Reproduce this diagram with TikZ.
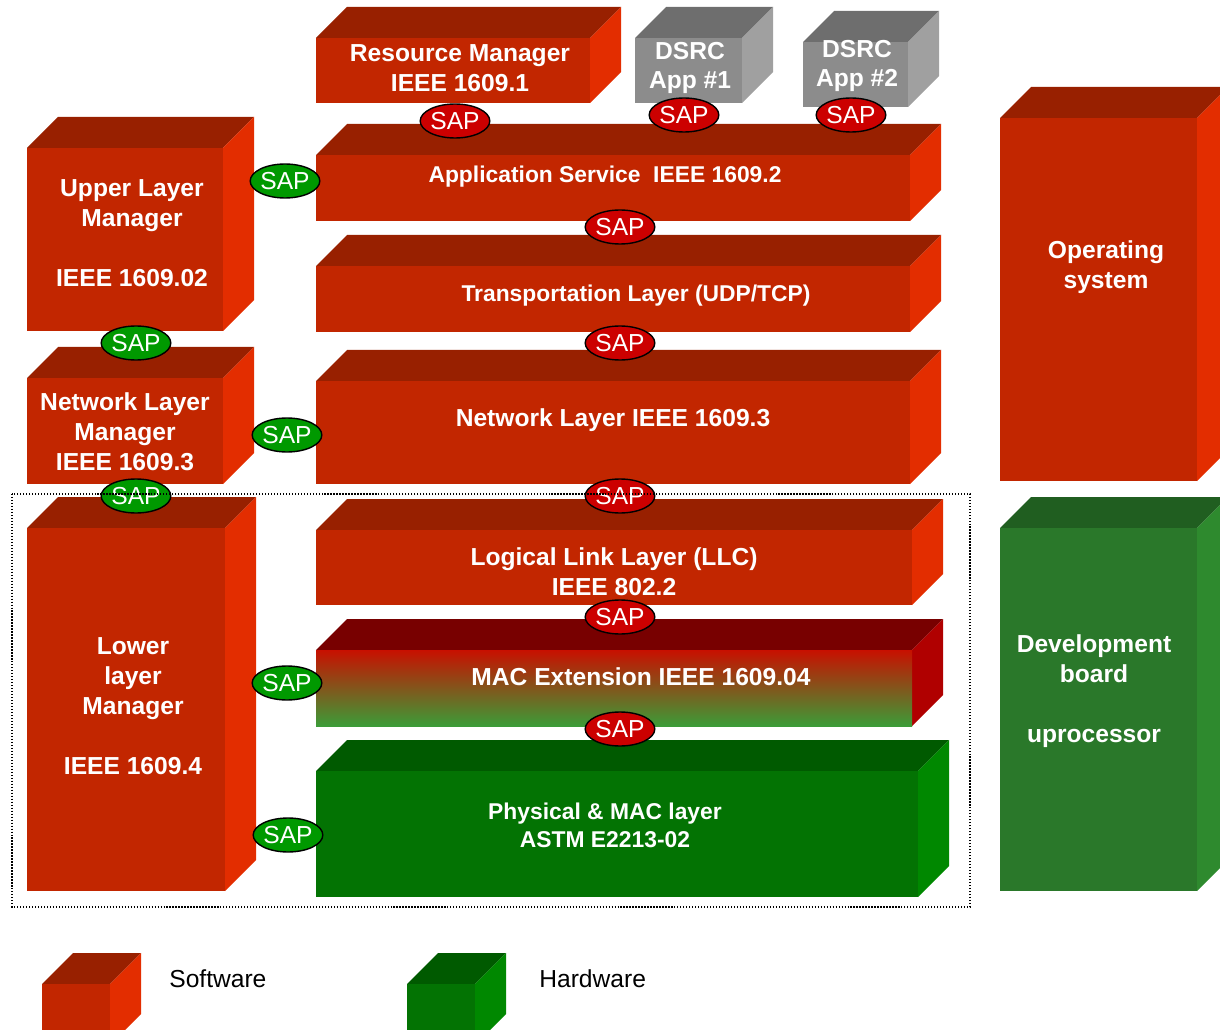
\documentclass[tikz,border=0pt]{standalone}
\usepackage{fontspec}
\setmainfont{Liberation Sans}
\usetikzlibrary{shapes.geometric,positioning}

\definecolor{swF}{RGB}{194,38,0}
\definecolor{swT}{RGB}{152,32,0}
\definecolor{swS}{RGB}{227,45,0}
\definecolor{hwF}{RGB}{3,115,3}
\definecolor{hwT}{RGB}{0,90,0}
\definecolor{hwS}{RGB}{0,136,0}
\definecolor{dbF}{RGB}{42,120,42}
\definecolor{dbT}{RGB}{32,94,32}
\definecolor{dbS}{RGB}{46,138,46}
\definecolor{grF}{RGB}{140,140,140}
\definecolor{grT}{RGB}{110,110,110}
\definecolor{grS}{RGB}{160,160,160}
\definecolor{mxTop}{RGB}{200,16,0}
\definecolor{mxMid}{RGB}{140,112,42}
\definecolor{mxBot}{RGB}{60,156,56}
\definecolor{mxT}{RGB}{120,0,0}
\definecolor{mxS}{RGB}{176,0,0}
\definecolor{sapR}{RGB}{204,0,0}
\definecolor{sapG}{RGB}{0,153,0}

\newcommand{\blkdepth}{31}
% 3D block: name, x1, y1, x2, y2, colour set, text position, text style, text
\newcommand{\block}[9]{%
  \path[#6 top] (#2,#3) -- ++(\blkdepth,-\blkdepth) -- ({#4+\blkdepth},{#3-\blkdepth}) -- (#4,#3) -- cycle;
  \path[#6 side] (#4,#3) -- ({#4+\blkdepth},{#3-\blkdepth}) -- ({#4+\blkdepth},{#5-\blkdepth}) -- (#4,#5) -- cycle;
  \path[#6 front] (#2,#3) rectangle (#4,#5);
  \node[#8] (#1) at (#7) {#9};
}

\begin{document}
\begin{tikzpicture}[
    x=0.02cm, y=-0.02cm,
    boxtext/.style={text=white, font=\bfseries\fontsize{14}{17}\selectfont, align=center, inner sep=0pt},
    smalltext/.style={boxtext, font=\bfseries\fontsize{13}{16}\selectfont},
    keytext/.style={font=\fontsize{14}{17}\selectfont, inner sep=0pt, anchor=west},
    sap/.style={ellipse, draw=black, line width=0.8pt, minimum width=1.28cm, minimum height=0.68cm, inner sep=0pt, text=white, font=\fontsize{14}{17}\selectfont},
    red sap/.style={sap, fill=sapR},
    green sap/.style={sap, fill=sapG},
    sw front/.style={fill=swF}, sw top/.style={fill=swT}, sw side/.style={fill=swS},
    hw front/.style={fill=hwF}, hw top/.style={fill=hwT}, hw side/.style={fill=hwS},
    db front/.style={fill=dbF}, db top/.style={fill=dbT}, db side/.style={fill=dbS},
    gr front/.style={fill=grF}, gr top/.style={fill=grT}, gr side/.style={fill=grS},
    mx front/.style={top color=mxTop, middle color=mxMid, bottom color=mxBot},
    mx top/.style={fill=mxT}, mx side/.style={fill=mxS}
]
    \useasboundingbox (0,0) rectangle (1220,1030);

    % Protocol stack
    \block{resmgr}{316}{38}{590}{103}{sw}{460,68}{boxtext}{Resource Manager\\IEEE 1609.1}
    \block{app1}{635}{38}{742}{103}{gr}{690,68}{boxtext}{DSRC\\App \#1}
    \block{app2}{803}{42}{908}{107}{gr}{857,66}{boxtext}{DSRC\\App \#2}
    \block{appsvc}{316}{155}{910}{221}{sw}{605,177}{smalltext}{Application Service\ \ IEEE 1609.2}
    \block{transport}{316}{266}{910}{332}{sw}{636,296}{smalltext}{Transportation Layer (UDP/TCP)}
    \block{netlayer}{316}{381}{910}{484}{sw}{613,420}{boxtext}{Network Layer IEEE 1609.3}
    \block{llc}{316}{530}{912}{605}{sw}{614,572}{boxtext}{Logical Link Layer (LLC)\\IEEE 802.2}
    \block{macext}{316}{650}{912}{726}{mx}{641,677}{boxtext}{MAC Extension IEEE 1609.04}
    \block{phy}{316}{771}{918}{897}{hw}{605,825}{smalltext}{Physical \& MAC layer\\ASTM E2213-02}

    % Managers
    \block{ulm}{27}{148}{223}{331}{sw}{132,233}{boxtext}{Upper Layer\\Manager\\[17pt]IEEE 1609.02}
    \block{nlm}{27}{378}{223}{484}{sw}{125,432}{boxtext}{Network Layer\\Manager\\IEEE 1609.3}
    \block{llm}{27}{528}{225}{891}{sw}{133,706}{boxtext}{Lower\\layer\\Manager\\[17pt]IEEE 1609.4}

    % Platform
    \block{os}{1000}{118}{1197}{481}{sw}{1106,267}{boxtext}{Operating\\system}
    \block{devboard}{1000}{528}{1197}{891}{db}{1094,691}{boxtext}{Development\\board\\[17pt]uprocessor}

    % Service access points
    \node[red sap] (sapres) at (455,121) {SAP};
    \node[red sap] (sapapp1) at (684,115) {SAP};
    \node[red sap] (sapapp2) at (851,115) {SAP};
    \node[green sap] (sapulm) at (285,181) {SAP};
    \node[red sap] (sapsvc) at (620,227) {SAP};
    \node[green sap] (sapmgr) at (136,343) {SAP};
    \node[red sap] (saptrans) at (620,343) {SAP};
    \node[green sap] (sapnlm) at (287,435) {SAP};
    \node[green sap] (saplow) at (136,496) {SAP};
    \node[red sap] (sapnet) at (620,496) {SAP};
    \node[red sap] (sapllc) at (620,617) {SAP};
    \node[green sap] (sapmac) at (287,683) {SAP};
    \node[red sap] (sapext) at (620,729) {SAP};
    \node[green sap] (sapphy) at (288,835) {SAP};

    % Lower layer group
    \draw[densely dotted, line width=0.7pt] (12,494) rectangle (970,907);

    % Legend
    \block{swkey}{42}{984}{110}{1045}{sw}{76,1010}{boxtext}{}
    \block{hwkey}{407}{984}{475}{1045}{hw}{441,1010}{boxtext}{}
    \node[keytext] (swlabel) at (169,979) {Software};
    \node[keytext] (hwlabel) at (539,979) {Hardware};
\end{tikzpicture}
\end{document}
